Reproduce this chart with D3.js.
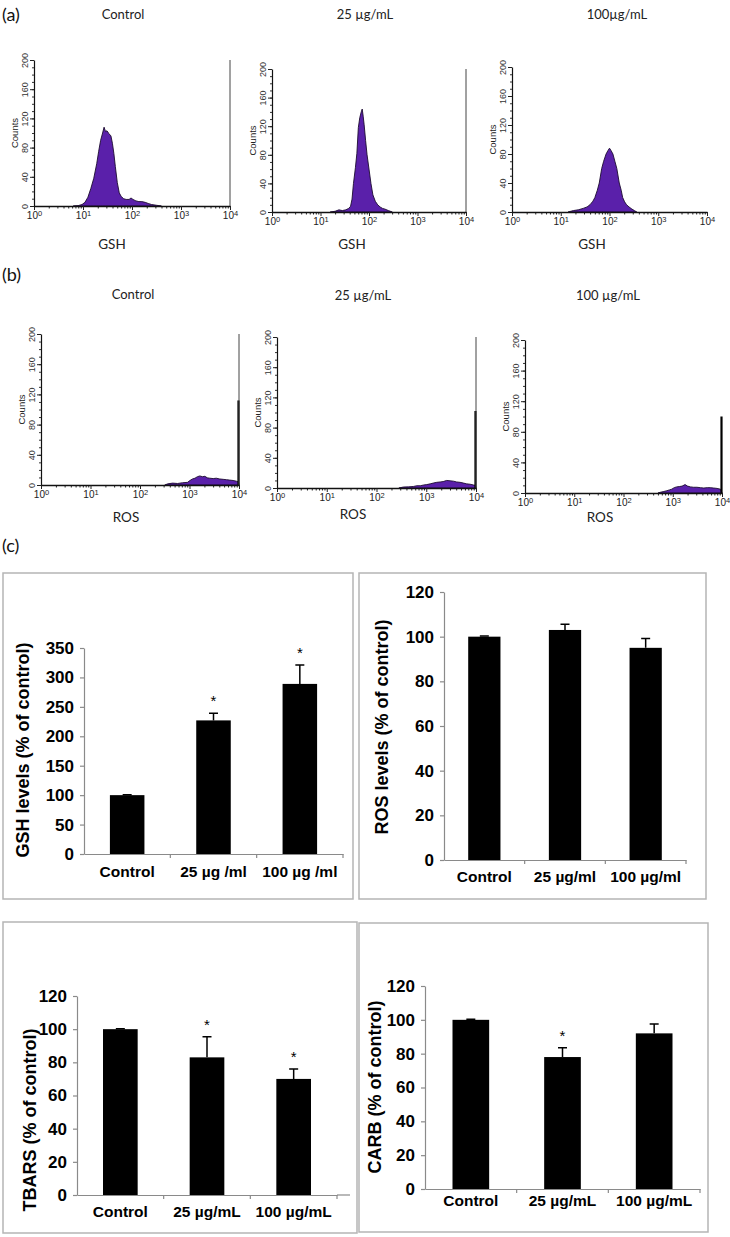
<!DOCTYPE html>
<meta charset="utf-8">
<style>
  body { margin: 0; background: #fff; }
  svg { display: block; }
</style>
<svg id="fig" width="730" height="1237"></svg>
<script src="https://d3js.org/d3.v7.min.js"></script>
<script>

// ---------- flow cytometry histograms: [log10 fluorescence, counts] ----------
const gshTitles = ["Control", "25 µg/mL", "100µg/mL"];
const rosTitles = ["Control", "25 µg/mL", "100 µg/mL"];

const gshControl = [[0.80,0],[0.90,0.5],[0.98,2],[1.04,5],[1.10,12],[1.16,24],[1.22,38],[1.28,58],[1.32,75],[1.36,90],[1.40,100],[1.43,108],[1.46,102],[1.49,103],[1.53,99],[1.57,96],[1.60,86],[1.63,72],[1.66,54],[1.70,32],[1.74,18],[1.78,13],[1.83,10],[1.88,9],[1.94,9],[1.98,11],[2.02,9],[2.08,7],[2.14,6],[2.20,6],[2.27,5],[2.33,3.5],[2.40,2],[2.50,1],[2.60,0]];
const gsh25 = [[1.20,0],[1.30,1],[1.38,3],[1.45,2],[1.52,3],[1.58,5],[1.62,8],[1.65,18],[1.68,40],[1.72,62],[1.75,82],[1.78,118],[1.81,132],[1.84,140],[1.86,144],[1.88,134],[1.90,122],[1.93,100],[1.96,80],[2.00,60],[2.04,40],[2.08,24],[2.13,15],[2.18,10],[2.23,7],[2.28,5],[2.33,4],[2.40,2],[2.48,0]];
const gsh100 = [[1.15,0],[1.26,2],[1.36,3],[1.46,5],[1.54,7],[1.60,10],[1.66,15],[1.70,20],[1.75,30],[1.79,40],[1.84,60],[1.88,70],[1.93,80],[1.97,85],[2.00,88],[2.03,85],[2.07,80],[2.11,70],[2.15,60],[2.20,40],[2.24,30],[2.27,20],[2.31,14],[2.35,10],[2.40,7],[2.46,4],[2.51,2],[2.56,0]];

const rosControl = [[2.50,0],[2.56,1.5],[2.66,2.5],[2.76,2],[2.86,3],[2.96,3.5],[3.01,6],[3.06,8],[3.11,9],[3.16,11],[3.21,12],[3.26,11],[3.31,11.5],[3.36,9.5],[3.41,9],[3.48,8.5],[3.54,9],[3.61,8],[3.68,7.5],[3.75,7],[3.81,6.5],[3.88,6],[3.95,5],[3.99,4],[4.00,0]];
const ros25 = [[2.45,0],[2.54,1.3],[2.64,1.5],[2.74,2],[2.81,3],[2.88,3],[2.95,4],[3.01,4.5],[3.08,5.5],[3.14,6.5],[3.21,7.5],[3.28,8],[3.34,8.5],[3.41,10],[3.48,9.5],[3.55,9],[3.61,8],[3.68,7.5],[3.75,6.5],[3.81,5.5],[3.88,5],[3.95,4],[3.99,3.5],[4.00,0]];
const ros100 = [[2.70,0],[2.75,1],[2.82,2],[2.88,3],[2.93,4],[2.98,5],[3.03,7],[3.08,8],[3.14,8.5],[3.19,9],[3.25,11],[3.30,9],[3.36,8],[3.42,7.5],[3.49,7.5],[3.56,7],[3.63,6.5],[3.70,7],[3.76,7],[3.83,6.5],[3.90,6],[3.97,5],[4.00,0]];
// off-scale events piled up in the last channel
const rosSpike = [112, 102, 100];

const histTicks = [0, 40, 80, 120, 160, 200];

// ---------- bar charts (% of control) ----------
const gshCats = ["Control", "25 µg /ml", "100 µg /ml"];
const gshMean = [100, 227, 289];
const gshErr = [0.5, 12, 32];
const gshSig = [false, true, true];

const rosCats = ["Control", "25 µg/ml", "100 µg/ml"];
const rosMean = [100, 103, 95];
const rosErr = [0.3, 2.6, 4.2];
const rosSig = [false, false, false];

const tbarsCats = ["Control", "25 µg/mL", "100 µg/mL"];
const tbarsMean = [100, 83, 70];
const tbarsErr = [0.3, 12.5, 6];
const tbarsSig = [false, true, true];

const carbCats = ["Control", "25 µg/mL", "100 µg/mL"];
const carbMean = [100, 78, 92];
const carbErr = [0.3, 5.5, 5.5];
const carbSig = [false, true, false];

const svg = d3.select("#fig");
const sans = "'Liberation Sans', Arial, sans-serif";
const soft = "Lato, 'Open Sans', sans-serif";

// panel letters
[["(a)", 15], ["(b)", 275], ["(c)", 546]].forEach(([t, y]) => {
  svg.append("text").attr("x", 2).attr("y", y).attr("dy", "0.35em")
    .style("font-family", soft).style("font-size", "18px").style("fill", "#111").text(t);
});

function histPanel(p) {
  const x = d3.scaleLog().domain([1, 1e4]).range([p.x0, p.x1]);
  const y = d3.scaleLinear().domain([0, 200]).range([p.base, p.top]);
  const g = svg.append("g");

  // title + x label
  svg.append("text").attr("x", p.tx).attr("y", p.ty).attr("dy", "0.35em")
    .attr("text-anchor", "middle").style("font-family", soft).style("font-size", "13px")
    .style("fill", "#222").text(p.title);
  svg.append("text").attr("x", p.lx).attr("y", p.ly).attr("dy", "0.35em")
    .attr("text-anchor", "middle").style("font-family", soft).style("font-size", "13.5px")
    .style("fill", "#222").text(p.xlabel);

  const area = d3.area()
    .x(d => x(Math.pow(10, d[0])))
    .y0(p.base)
    .y1(d => y(d[1]));
  g.append("path").datum(p.data).attr("d", area)
    .attr("fill", "#5a20aa").attr("stroke", "#1c0b30").attr("stroke-width", 0.9);

  if (p.spike) {
    g.append("line").attr("x1", x(1e4) - 0.5).attr("x2", x(1e4) - 0.5)
      .attr("y1", p.base).attr("y2", y(p.spike))
      .attr("stroke", "#000").attr("stroke-width", 2.2);
  }
  if (p.frame) {
    g.append("line").attr("x1", p.x1).attr("x2", p.x1).attr("y1", p.base).attr("y2", p.top)
      .attr("stroke", "#444").attr("stroke-width", 1);
  }

  // x axis: minor ticks, then major ticks with 10^n labels
  const minor = [];
  for (let k = 0; k < 4; k++) for (let m = 2; m < 10; m++) minor.push(m * Math.pow(10, k));
  g.append("g").attr("transform", `translate(0,${p.base})`)
    .call(d3.axisBottom(x).tickValues(minor).tickSize(2.5).tickFormat(""))
    .call(a => a.select(".domain").remove())
    .call(a => a.selectAll("line").attr("stroke", "#222"));
  const xa = g.append("g").attr("transform", `translate(0,${p.base})`)
    .call(d3.axisBottom(x).tickValues([1, 10, 100, 1000, 10000]).tickSize(4).tickSizeOuter(0));
  xa.select(".domain").attr("stroke", "#111").attr("stroke-width", 1.3);
  xa.selectAll("line").attr("stroke", "#222");
  xa.selectAll(".tick text").each(function(d) {
    const t = d3.select(this).text(null).attr("y", 6)
      .style("font-family", sans).style("font-size", "10px").style("fill", "#222");
    t.append("tspan").text("10");
    t.append("tspan").attr("dy", "-0.45em").style("font-size", "7.5px").text(Math.round(Math.log10(d)));
  });

  // y axis
  g.append("g").attr("transform", `translate(${p.x0},0)`)
    .call(d3.axisLeft(y).tickValues(d3.range(0, 201, 10)).tickSize(2).tickFormat(""))
    .call(a => a.select(".domain").remove())
    .call(a => a.selectAll("line").attr("stroke", "#333"));
  const ya = g.append("g").attr("transform", `translate(${p.x0},0)`)
    .call(d3.axisLeft(y).tickValues(histTicks).tickSize(4).tickSizeOuter(0));
  ya.select(".domain").attr("stroke", "#111").attr("stroke-width", 1.2);
  ya.selectAll("line").attr("stroke", "#222");
  ya.selectAll(".tick text")
    .attr("x", 0).attr("dy", 0).attr("y", 0)
    .attr("transform", "translate(-6,0) rotate(-90)")
    .attr("text-anchor", "middle")
    .style("font-family", sans).style("font-size", "9px").style("fill", "#333");

  g.append("text").attr("transform", `translate(${p.x0 - 16},${(p.base + p.top) / 2}) rotate(-90)`)
    .attr("text-anchor", "middle").style("font-family", sans).style("font-size", "9.5px")
    .style("fill", "#222").text("Counts");
}

const histLayout = [
  { data: gshControl, title: gshTitles[0], xlabel: "GSH", x0: 34, x1: 230, top: 60, base: 206, tx: 123, ty: 14, lx: 112, ly: 244, frame: true },
  { data: gsh25, title: gshTitles[1], xlabel: "GSH", x0: 272, x1: 466, top: 69, base: 212, tx: 365, ty: 14, lx: 352, ly: 244, frame: true },
  { data: gsh100, title: gshTitles[2], xlabel: "GSH", x0: 512, x1: 707, top: 67, base: 212, tx: 617, ty: 14, lx: 592, ly: 244, frame: false },
  { data: rosControl, spike: rosSpike[0], title: rosTitles[0], xlabel: "ROS", x0: 41, x1: 239, top: 334, base: 485, tx: 133, ty: 294, lx: 126, ly: 517, frame: true },
  { data: ros25, spike: rosSpike[1], title: rosTitles[1], xlabel: "ROS", x0: 277, x1: 476, top: 337, base: 488, tx: 363, ty: 295, lx: 353, ly: 514, frame: true },
  { data: ros100, spike: rosSpike[2], title: rosTitles[2], xlabel: "ROS", x0: 525, x1: 722, top: 340, base: 493, tx: 608, ty: 295, lx: 600, ly: 517, frame: false }
];
histLayout.forEach(histPanel);

function barPanel(p) {
  svg.append("rect").attr("x", p.box[0]).attr("y", p.box[1])
    .attr("width", p.box[2] - p.box[0]).attr("height", p.box[3] - p.box[1])
    .attr("fill", "none").attr("stroke", "#b5b5b5").attr("stroke-width", 1.5);

  const x = d3.scaleBand().domain(p.cats).range([p.x0, p.xb]).paddingInner(0.6).paddingOuter(0.3);
  const y = d3.scaleLinear().domain([0, p.max]).range([p.y0, p.y1]);
  const g = svg.append("g");
  const rows = p.cats.map((c, i) => ({ c, m: p.mean[i], e: p.err[i], s: p.sig[i] }));

  // y axis
  const ya = g.append("g").attr("transform", `translate(${p.x0},0)`)
    .call(d3.axisLeft(y).tickValues(d3.range(0, p.max + 1, p.step)).tickSize(4).tickSizeOuter(0).tickPadding(6));
  ya.selectAll("line, .domain").attr("stroke", "#8a8a8a").attr("stroke-width", 1.2);
  ya.selectAll(".tick text").style("font-family", sans).style("font-size", "17px")
    .style("font-weight", "bold").style("fill", "#000");

  // x axis
  const xa = g.append("g").attr("transform", `translate(0,${p.y0})`)
    .call(d3.axisBottom(x).tickSize(0).tickPadding(p.catPad));
  xa.select(".domain").attr("stroke", "#8a8a8a").attr("stroke-width", 1.2);
  xa.selectAll(".tick text").style("font-family", sans).style("font-size", "15.5px")
    .style("font-weight", "bold").style("fill", "#000");
  if (p.xe > p.xb) {
    g.append("line").attr("x1", p.xb).attr("x2", p.xe).attr("y1", p.y0).attr("y2", p.y0)
      .attr("stroke", "#8a8a8a").attr("stroke-width", 1.2);
  }
  g.selectAll(".sep").data(d3.range(1, p.cats.length + 1)).join("line")
    .attr("x1", i => p.x0 + i * x.step()).attr("x2", i => p.x0 + i * x.step())
    .attr("y1", p.y0).attr("y2", p.y0 + 4)
    .attr("stroke", "#8a8a8a").attr("stroke-width", 1.2);

  // bars
  g.selectAll(".bar").data(rows).join("rect")
    .attr("x", d => x(d.c)).attr("width", x.bandwidth())
    .attr("y", d => y(d.m)).attr("height", d => y(0) - y(d.m))
    .attr("fill", "#000");

  // upper error bars
  const cx = d => x(d.c) + x.bandwidth() / 2;
  g.selectAll(".eb").data(rows).join("path")
    .attr("d", d => `M${cx(d)},${y(d.m)}V${y(d.m + d.e)}M${cx(d) - 4.5},${y(d.m + d.e)}H${cx(d) + 4.5}`)
    .attr("stroke", "#000").attr("stroke-width", 1.5).attr("fill", "none");

  g.selectAll(".star").data(rows.filter(d => d.s)).join("text")
    .attr("x", cx).attr("y", d => y(d.m + d.e) - 7)
    .attr("text-anchor", "middle").style("font-family", sans).style("font-size", "15px")
    .text("*");

  g.append("text").attr("transform", `translate(${p.lx},${p.ly}) rotate(-90)`)
    .attr("text-anchor", "middle").attr("dy", "0.35em")
    .style("font-family", sans).style("font-size", "18px").style("font-weight", "bold")
    .text(p.label);
}

const barLayout = [
  { cats: gshCats, mean: gshMean, err: gshErr, sig: gshSig, max: 350, step: 50, label: "GSH levels (% of control)",
    box: [3, 573, 353, 899], x0: 84, xb: 343, xe: 343, y0: 854, y1: 648, lx: 23, ly: 750, catPad: 12 },
  { cats: rosCats, mean: rosMean, err: rosErr, sig: rosSig, max: 120, step: 20, label: "ROS levels (% of control)",
    box: [359, 573, 706, 899], x0: 444, xb: 686, xe: 686, y0: 860, y1: 592, lx: 382, ly: 727, catPad: 11 },
  { cats: tbarsCats, mean: tbarsMean, err: tbarsErr, sig: tbarsSig, max: 120, step: 20, label: "TBARS (% of control)",
    box: [3, 922, 357, 1233], x0: 77, xb: 337, xe: 350, y0: 1195, y1: 996, lx: 30, ly: 1120, catPad: 11 },
  { cats: carbCats, mean: carbMean, err: carbErr, sig: carbSig, max: 120, step: 20, label: "CARB (% of control)",
    box: [359, 923, 708, 1232], x0: 425, xb: 700, xe: 700, y0: 1189, y1: 986, lx: 375, ly: 1087, catPad: 6 }
];
barLayout.forEach(barPanel);

</script>
